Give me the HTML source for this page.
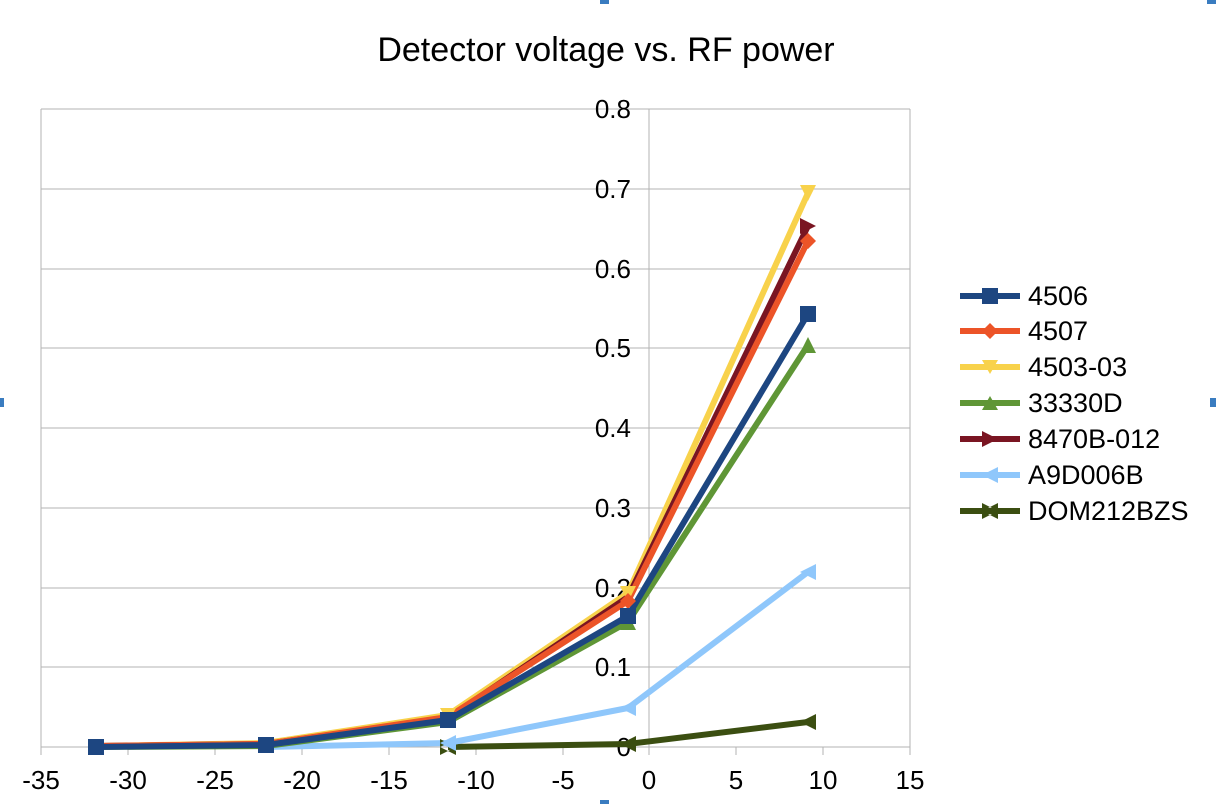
<!DOCTYPE html>
<html><head><meta charset="utf-8"><style>body{margin:0;background:#fff}svg{display:block;font-family:"Liberation Sans",sans-serif}</style></head><body>
<svg width="1216" height="804" viewBox="0 0 1216 804">
<rect width="1216" height="804" fill="#fff"/>
<g fill="#3a7cc0"><rect x="600" y="-3" width="9" height="7"/><rect x="1207" y="-3" width="9" height="7"/><rect x="-3" y="398" width="7" height="9"/><rect x="1210" y="398" width="9" height="9"/><rect x="600" y="800" width="9" height="7"/></g>
<text x="606" y="61" font-size="34" text-anchor="middle">Detector voltage vs. RF power</text>
<g stroke="#b3b3b3" stroke-width="1">
<line x1="41" y1="109" x2="910" y2="109"/><line x1="41" y1="189" x2="910" y2="189"/><line x1="41" y1="269" x2="910" y2="269"/><line x1="41" y1="348" x2="910" y2="348"/><line x1="41" y1="428" x2="910" y2="428"/><line x1="41" y1="508" x2="910" y2="508"/><line x1="41" y1="588" x2="910" y2="588"/><line x1="41" y1="667" x2="910" y2="667"/><line x1="41" y1="747" x2="910" y2="747"/>
<line x1="41" y1="109" x2="41" y2="747"/><line x1="910" y1="109" x2="910" y2="747"/><line x1="649" y1="109" x2="649" y2="755"/>
<line x1="41" y1="747" x2="41" y2="755"/><line x1="128" y1="747" x2="128" y2="755"/><line x1="215" y1="747" x2="215" y2="755"/><line x1="302" y1="747" x2="302" y2="755"/><line x1="389" y1="747" x2="389" y2="755"/><line x1="476" y1="747" x2="476" y2="755"/><line x1="563" y1="747" x2="563" y2="755"/><line x1="736" y1="747" x2="736" y2="755"/><line x1="823" y1="747" x2="823" y2="755"/><line x1="910" y1="747" x2="910" y2="755"/>
<line x1="641" y1="109" x2="649" y2="109"/><line x1="641" y1="189" x2="649" y2="189"/><line x1="641" y1="269" x2="649" y2="269"/><line x1="641" y1="348" x2="649" y2="348"/><line x1="641" y1="428" x2="649" y2="428"/><line x1="641" y1="508" x2="649" y2="508"/><line x1="641" y1="588" x2="649" y2="588"/><line x1="641" y1="667" x2="649" y2="667"/>
</g>
<g font-size="26" text-anchor="end">
<text x="631" y="118">0.8</text><text x="631" y="198">0.7</text><text x="631" y="278">0.6</text><text x="631" y="357">0.5</text><text x="631" y="437">0.4</text><text x="631" y="517">0.3</text><text x="631" y="597">0.2</text><text x="631" y="676">0.1</text><text x="631" y="756">0</text>
</g>
<g font-size="26" text-anchor="middle">
<text x="41" y="789">-35</text><text x="128" y="789">-30</text><text x="215" y="789">-25</text><text x="302" y="789">-20</text><text x="389" y="789">-15</text><text x="476" y="789">-10</text><text x="563" y="789">-5</text><text x="649" y="789">0</text><text x="736" y="789">5</text><text x="823" y="789">10</text><text x="910" y="789">15</text>
</g>
<g fill="none" stroke-width="6" stroke-linejoin="round">
<polyline stroke="#3b4e11" points="448,747 628,744 808,722"/>
<polyline stroke="#8fc7fb" points="266,747 448,743 628,708 808,572"/>
<polyline stroke="#5f9636" points="96,747 266,746 448,722 628,622 808,345"/>
<polyline stroke="#f8d24b" points="96,746 266,743 448,715 628,593 808,193"/>
<polyline stroke="#7a1522" points="96,746 266,744 448,718 628,597 808,226"/>
<polyline stroke="#ec5428" points="96,746 266,744 448,717 628,601 808,241"/>
<polyline stroke="#1d4681" points="96,747 266,745 448,720 628,616 808,314"/>
</g>
<g>
<path d="M440,739 L456,747 L440,755Z M456,739 L440,747 L456,755Z" fill="#3b4e11"/>
<path d="M636,736 L620,744 L636,752Z M816,714 L800,722 L816,730Z" fill="#3b4e11"/>
<path d="M456,735 L440,743 L456,751Z M636,700 L620,708 L636,716Z M816,564 L800,572 L816,580Z" fill="#8fc7fb"/>
<path d="M620,630 L628,614 L636,630Z M800,353 L808,337 L816,353Z" fill="#5f9636"/>
<path d="M620,586 L628,602 L636,586Z M800,185 L808,201 L816,185Z M440,708 L448,722 L456,708Z" fill="#f8d24b"/>
<path d="M800,218 L816,226 L800,234Z" fill="#7a1522"/>
<path d="M628,593 L636,601 L628,609 L620,601Z M808,233 L816,241 L808,249 L800,241Z" fill="#ec5428"/>
<rect x="88" y="739" width="16" height="16" fill="#1d4681"/><rect x="258" y="737" width="16" height="16" fill="#1d4681"/><rect x="440" y="712" width="16" height="16" fill="#1d4681"/><rect x="620" y="608" width="16" height="16" fill="#1d4681"/><rect x="800" y="306" width="16" height="16" fill="#1d4681"/>
</g>
<g stroke-width="6">
<line x1="960" y1="296" x2="1020" y2="296" stroke="#1d4681"/>
<line x1="960" y1="331" x2="1020" y2="331" stroke="#ec5428"/>
<line x1="960" y1="367" x2="1020" y2="367" stroke="#f8d24b"/>
<line x1="960" y1="403" x2="1020" y2="403" stroke="#5f9636"/>
<line x1="960" y1="439" x2="1020" y2="439" stroke="#7a1522"/>
<line x1="960" y1="475" x2="1020" y2="475" stroke="#8fc7fb"/>
<line x1="960" y1="511" x2="1020" y2="511" stroke="#3b4e11"/>
</g>
<rect x="982" y="288" width="16" height="16" fill="#1d4681"/>
<path d="M990,323 L998,331 L990,339 L982,331Z" fill="#ec5428"/>
<path d="M982,360 L990,374 L998,360Z" fill="#f8d24b"/>
<path d="M982,410 L990,396 L998,410Z" fill="#5f9636"/>
<path d="M982,431 L998,439 L982,447Z" fill="#7a1522"/>
<path d="M998,467 L982,475 L998,483Z" fill="#8fc7fb"/>
<path d="M982,503 L998,511 L982,519Z M998,503 L982,511 L998,519Z" fill="#3b4e11"/>
<g font-size="27">
<text x="1028" y="305">4506</text><text x="1028" y="340">4507</text><text x="1028" y="376">4503-03</text><text x="1028" y="412">33330D</text><text x="1028" y="448">8470B-012</text><text x="1028" y="484">A9D006B</text><text x="1028" y="520">DOM212BZS</text>
</g>
</svg>
</body></html>
